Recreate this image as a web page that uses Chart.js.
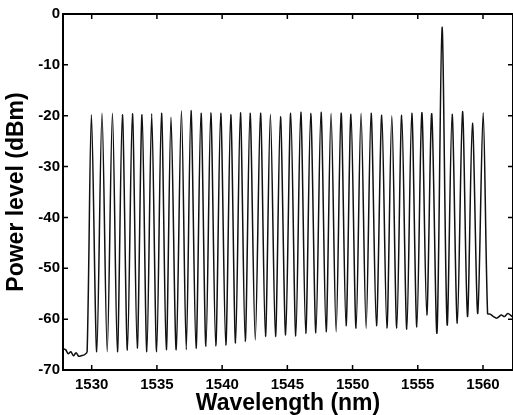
<!DOCTYPE html>
<html>
<head>
<meta charset="utf-8">
<script src="https://cdn.jsdelivr.net/npm/chart.js@4.4.1/dist/chart.umd.min.js"></script>
<style>
  html, body { margin: 0; padding: 0; background: #fff; }
  #wrap { width: 513px; height: 415px; }
</style>
</head>
<body>
<div id="wrap"><canvas id="c" width="513" height="415"></canvas></div>
<script>
// ---- data ----
const xTicks = [1530, 1535, 1540, 1545, 1550, 1555, 1560];
const yTicks = [-70, -60, -50, -40, -30, -20, -10, 0];

// baseline before the comb
const preNm = [1527.8, 1528.0, 1528.2, 1528.4, 1528.6, 1528.8, 1529.0, 1529.2, 1529.45, 1529.65];
const preDb = [-65.8, -66.0, -66.8, -66.4, -67.2, -66.6, -67.3, -67.2, -67.0, -66.4];

// comb peaks
const peakNm = [1529.98, 1530.79, 1531.59, 1532.35, 1533.12, 1533.86, 1534.60, 1535.35, 1536.08, 1536.88,
                1537.61, 1538.38, 1539.13, 1539.89, 1540.66, 1541.40, 1542.14, 1542.94, 1543.70, 1544.47,
                1545.26, 1546.03, 1546.79, 1547.58, 1548.35, 1549.12, 1549.88, 1550.65, 1551.42, 1552.24,
                1553.01, 1553.77, 1554.54, 1555.31, 1556.07, 1556.86, 1557.63, 1558.43, 1559.19, 1560.01];
const peakDb = [-19.8, -19.5, -19.5, -19.8, -19.6, -19.8, -19.6, -19.5, -20.3, -19.0,
                -19.0, -19.5, -19.4, -19.5, -19.8, -19.4, -19.5, -19.5, -19.7, -20.2,
                -19.5, -19.3, -19.5, -19.3, -19.5, -19.5, -19.7, -19.5, -19.5, -19.9,
                -20.0, -19.9, -19.5, -19.4, -19.6, -2.6, -19.7, -19.2, -21.5, -19.4];

// valleys between peaks
const valleyNm = [1530.39, 1531.19, 1531.97, 1532.74, 1533.49, 1534.23, 1534.98, 1535.72, 1536.48, 1537.25,
                  1538.00, 1538.76, 1539.51, 1540.28, 1541.03, 1541.77, 1542.54, 1543.32, 1544.09, 1544.87,
                  1545.65, 1546.41, 1547.19, 1547.97, 1548.74, 1549.50, 1550.27, 1551.04, 1551.83, 1552.63,
                  1553.39, 1554.16, 1554.93, 1555.69, 1556.47, 1557.25, 1558.03, 1558.81, 1559.60];
const valleyDb = [-66.4, -66.4, -66.4, -66.1, -65.7, -66.4, -66.4, -66.0, -66.0, -66.0,
                  -65.7, -65.4, -65.3, -65.1, -64.7, -64.4, -64.1, -63.4, -63.4, -63.1,
                  -63.3, -62.8, -62.7, -62.5, -62.5, -61.3, -61.8, -61.8, -61.3, -61.8,
                  -61.8, -62.0, -61.6, -59.2, -62.7, -61.1, -60.8, -59.5, -58.9];

// baseline after the comb
const postNm = [1560.35, 1560.55, 1560.8, 1561.05, 1561.4, 1561.65, 1561.9, 1562.15, 1562.4];
const postDb = [-58.9, -59.0, -59.5, -59.8, -59.2, -59.5, -58.9, -59.3, -59.9];

// ---- build the trace ----
const trace = [];
preNm.forEach((v, i) => trace.push({x: v, y: preDb[i]}));
peakNm.forEach((v, i) => {
  trace.push({x: v, y: peakDb[i]});
  if (i < valleyNm.length) trace.push({x: valleyNm[i], y: valleyDb[i]});
});
postNm.forEach((v, i) => trace.push({x: v, y: postDb[i]}));

const TICK_FONT = {family: "'Liberation Sans', Arial, sans-serif", size: 15, weight: 'bold'};
const TITLE_FONT = {family: "'Liberation Sans', Arial, sans-serif", size: 23, weight: 'bold'};

const frame = {
  id: 'frame',
  afterDatasetsDraw(chart) {
    const {ctx, chartArea: {left, right, top, bottom}, scales: {x, y}} = chart;
    ctx.save();
    ctx.strokeStyle = '#000';
    ctx.lineWidth = 2;
    ctx.strokeRect(left, top, right - left, bottom - top);
    ctx.lineWidth = 1.5;
    ctx.beginPath();
    x.ticks.forEach(t => {
      const px = x.getPixelForValue(t.value);
      ctx.moveTo(px, bottom); ctx.lineTo(px, bottom - 5);
      ctx.moveTo(px, top); ctx.lineTo(px, top + 5);
    });
    y.ticks.forEach(t => {
      const py = y.getPixelForValue(t.value);
      ctx.moveTo(left, py); ctx.lineTo(left + 5, py);
      ctx.moveTo(right, py); ctx.lineTo(right - 5, py);
    });
    ctx.stroke();
    ctx.restore();
  }
};

new Chart(document.getElementById('c'), {
  type: 'line',
  data: {
    datasets: [{
      data: trace,
      borderColor: '#111',
      borderWidth: 1.5,
      pointRadius: 0,
      tension: 0.3,
      fill: false
    }]
  },
  options: {
    responsive: false,
    animation: false,
    devicePixelRatio: 1,
    layout: {padding: {top: 14, right: 0, left: 0, bottom: 0}},
    plugins: {legend: {display: false}, tooltip: {enabled: false}},
    scales: {
      x: {
        type: 'linear',
        min: 1527.8,
        max: 1562.3,
        afterBuildTicks: s => { s.ticks = xTicks.map(v => ({value: v})); },
        afterFit: s => { s.height = 45; },
        grid: {display: false, drawTicks: false},
        border: {display: false},
        ticks: {color: '#000', font: TICK_FONT, padding: 6, maxRotation: 0, autoSkip: false,
                callback: v => String(v)},
        title: {display: true, text: 'Wavelength (nm)', color: '#000', font: TITLE_FONT, padding: {top: 0, bottom: -2}}
      },
      y: {
        type: 'linear',
        min: -70,
        max: 0,
        afterBuildTicks: s => { s.ticks = yTicks.map(v => ({value: v})); },
        afterFit: s => { s.width = 63; },
        grid: {display: false, drawTicks: false},
        border: {display: false},
        ticks: {color: '#000', font: TICK_FONT, padding: 3, callback: v => String(v)},
        title: {display: true, text: 'Power level (dBm)', color: '#000', font: TITLE_FONT, padding: {top: 3, bottom: 0}}
      }
    }
  },
  plugins: [frame]
});
</script>
</body>
</html>
